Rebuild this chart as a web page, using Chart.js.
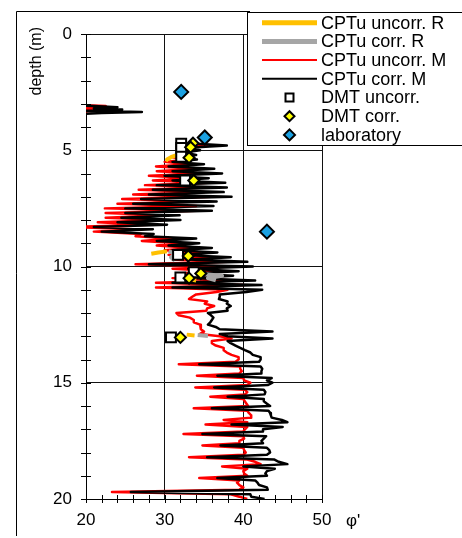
<!DOCTYPE html>
<html>
<head>
<meta charset="utf-8">
<script src="https://cdn.jsdelivr.net/npm/chart.js@4/dist/chart.umd.min.js"></script>
<style>
  body { margin: 0; background: #fff; }
</style>
</head>
<body>
<canvas id="chart" width="462" height="538"></canvas>
<script>
// CPTu profiles, depth in m (4.0 is a gap with no reading)
const depth = [
  3.05, 3.1, 3.15, 3.2, 3.25, 3.3, 3.35, 3.4, 3.45, 4.0,
  4.7, 4.8, 4.9, 5.0, 5.1, 5.2, 5.3, 5.4, 5.5, 5.6,
  5.7, 5.8, 5.9, 6.0, 6.1, 6.2, 6.3, 6.4, 6.5, 6.6,
  6.7, 6.8, 6.9, 7.0, 7.1, 7.2, 7.3, 7.4, 7.5, 7.6,
  7.7, 7.8, 7.9, 8.0, 8.1, 8.2, 8.3, 8.4, 8.5, 8.6,
  8.7, 8.8, 8.9, 9.0, 9.1, 9.2, 9.3, 9.4, 9.5, 9.6,
  9.7, 9.8, 9.9, 10.0, 10.1, 10.2, 10.3, 10.4, 10.5, 10.6,
  10.7, 10.8, 10.9, 11.0, 11.1, 11.2, 11.3, 11.4, 11.5, 11.6,
  11.7, 11.8, 11.9, 12.0, 12.1, 12.2, 12.3, 12.4, 12.5, 12.6,
  12.7, 12.8, 12.9, 13.0, 13.1, 13.2, 13.3, 13.4, 13.5, 13.6,
  13.7, 13.8, 13.9, 14.0, 14.1, 14.2, 14.3, 14.4, 14.5, 14.6,
  14.7, 14.8, 14.9, 15.0, 15.1, 15.2, 15.3, 15.4, 15.5, 15.6,
  15.7, 15.8, 15.9, 16.0, 16.1, 16.2, 16.3, 16.4, 16.5, 16.6,
  16.7, 16.8, 16.9, 17.0, 17.1, 17.2, 17.3, 17.4, 17.5, 17.6,
  17.7, 17.8, 17.9, 18.0, 18.1, 18.2, 18.3, 18.4, 18.5, 18.6,
  18.7, 18.8, 18.9, 19.0, 19.1, 19.2, 19.3, 19.4, 19.5, 19.6,
  19.7, 19.8, 19.9, 20.0
];

const phiUncorrM = [
  19, 22.5, 19, 23, 19.5, 21, 18.5, 20, 18, null,
  33, 35.4, 32.5, 33.5, 32, 33, 31, 33, 30, 33,
  28.9, 34, 29, 35, 28, 33.5, 28.5, 35.5, 27.5, 35.5,
  26.7, 35, 26, 36, 24.6, 34.5, 24, 34, 22.4, 34,
  22.5, 30, 22.5, 30, 21.5, 28, 18, 26, 21, 27,
  26.3, 31, 27.1, 32, 29, 33.5, 30, 34.5, 30.5, 36,
  31, 38, 26.3, 38.5, 31, 37, 31.5, 36.5, 31, 39,
  28.9, 40, 28.9, 38, 36.6, 34, 33.5, 33.1, 35.4, 35.1,
  36.3, 35.4, 35.3, 31.5, 31.8, 33.2, 33.7, 33.7, 34.5, 34.6,
  34.6, 35, 34.5, 37, 38.5, 36, 36, 36.5, 37.5, 37.5,
  37.9, 38.5, 39.4, 39.4, 39, 31.8, 39.6, 39.6, 39.8, 39.5,
  34.1, 40, 40.1, 40.9, 40.5, 33.9, 40.2, 40.5, 40.2, 35.8,
  40, 40.2, 40.4, 40.6, 33.7, 40.5, 40.7, 41, 41, 37.5,
  40.5, 35.2, 40.5, 40.2, 40, 32.4, 40, 40.1, 39.5, 39.5,
  34.8, 40, 40.1, 40.3, 40, 33.1, 40.5, 41.5, 42.2, 37.3,
  40.5, 40, 40.1, 40.5, 34.4, 39.5, 39.2, 39.5, 40, 39.5,
  23.3, 38.4, 39.5, 40.5
];

const phiCorrM = [
  18, 21, 24, 21, 24.6, 20, 27.1, 22, 19, null,
  33, 37.9, 32.5, 34.5, 32.5, 34, 32, 34.1, 31, 35,
  30.5, 36.3, 31, 37.3, 30, 35.6, 31, 37.7, 29, 37.9,
  28.5, 37.5, 28, 38.5, 27, 36.6, 26, 36.2, 25, 36,
  25, 31.9, 24.5, 32, 24, 30.3, 21, 28.5, 22, 28.6,
  27.5, 34, 29, 34.4, 30.5, 36, 31, 36.7, 32, 38.4,
  33, 40.5, 28, 41.2, 33, 39.4, 33, 38.7, 33.5, 41.5,
  31, 42.3, 31, 42.4, 40.4, 37, 37, 36.9, 38, 37.9,
  38.4, 37.9, 38, 35.5, 35.9, 36.2, 36, 35.8, 35.5, 36.5,
  37, 43.7, 37, 38, 43.7, 38, 38.4, 39, 39.6, 40.2,
  40.9, 41.2, 42.2, 42.2, 42, 34.4, 42.2, 42.4, 42.3, 42.3,
  36.7, 43.6, 43, 43.7, 43.1, 36.3, 42.6, 42.8, 42.7, 38,
  42.6, 42.6, 43, 43.4, 36, 43.2, 43.4, 43.5, 43.6, 44.9,
  45.6, 38.5, 45, 42.5, 42.5, 34.8, 42.9, 42.6, 42.3, 42.5,
  37.1, 43, 43.3, 43.4, 43, 35.4, 43.9, 44.5, 45.6, 40,
  44, 43, 42.8, 43, 36.7, 41.5, 41.8, 42, 43, 43.1,
  25.7, 40.9, 41, 42.7
];

// CPTu R only near the DMT depths
const depthUncorrR = [5.2, 5.3, 5.4, 5.45, 6, 9.35, 9.4, 9.45, 10, 10.55, 10.6, 11, 12.93, 12.97];
const phiUncorrR = [31.6, 30.8, 30.3, 30.5, null, 30.3, 29.2, 28.3, null, 33.2, 34, null, 32.8, 33.8];
const depthCorrR = [9.35, 9.45, 9.6, 9.75, 10, 10.3, 10.4, 10.5, 10.6, 11, 12.95, 12.99];
const phiCorrR = [30.5, 31.5, 30.8, 31.3, null, 34, 37.3, 35.5, 36.5, null, 34.2, 35.5];

// DMT and laboratory
const depthDmtUncorr = [4.72, 4.9, 5.28, 6.3, 9.5, 10.25, 10.47, 13.05];
const phiDmtUncorr = [32.1, 32.1, 32.1, 32.6, 31.7, 33.7, 32.0, 30.8];
const depthDmtCorr = [4.7, 4.87, 5.32, 6.3, 9.55, 10.3, 10.5, 13.05];
const phiDmtCorr = [33.6, 33.3, 33.1, 33.7, 33.0, 34.6, 33.1, 32.0];
const depthLab = [2.49, 4.45, 8.5];
const phiLab = [32.1, 35.1, 43.0];

const FONT = "'Liberation Sans', Arial, sans-serif";

function pts(ds, vs) {
  return ds.map((d, i) => (vs[i] == null ? { x: null, y: null } : { x: vs[i], y: d }));
}

const lineDs = (label, d, v, color, w, order) => ({
  label: label, data: pts(d, v), showLine: true, borderColor: color, backgroundColor: color,
  borderWidth: w, pointRadius: 0, tension: 0, spanGaps: false, borderJoinStyle: "round", order: order
});
const markDs = (label, d, v, style, r, fill, order) => ({
  label: label, data: pts(d, v), showLine: false, pointStyle: style, pointRadius: r,
  backgroundColor: fill, borderColor: "#000", pointBorderWidth: 2, borderWidth: 2, order: order
});

const extras = {
  id: "extras",
  afterDraw(chart) {
    const ctx = chart.ctx;
    const xs = chart.scales.x, ys = chart.scales.y;
    const a = chart.chartArea;
    ctx.save();
    ctx.strokeStyle = "#000";
    ctx.lineWidth = 1;
    // crossing ticks
    ctx.beginPath();
    for (let v = 20; v <= 50; v += 2) {
      const px = Math.round(xs.getPixelForValue(v)) + 0.5;
      ctx.moveTo(px, a.bottom - 4);
      ctx.lineTo(px, a.bottom + 4);
    }
    for (let d = 0; d <= 20; d += 1) {
      const py = Math.round(ys.getPixelForValue(d)) + 0.5;
      ctx.moveTo(a.left - 5, py);
      ctx.lineTo(a.left + 5, py);
    }
    ctx.stroke();

    // outer frame
    ctx.beginPath();
    ctx.moveTo(16.5, 536);
    ctx.lineTo(16.5, 11.5);
    ctx.lineTo(250, 11.5);
    ctx.stroke();

    // axis titles
    ctx.fillStyle = "#000";
    ctx.font = "17px " + FONT;
    ctx.textBaseline = "middle";
    ctx.textAlign = "left";
    ctx.fillText("φ'", 346, 521);
    ctx.save();
    ctx.translate(37, 27);
    ctx.rotate(-Math.PI / 2);
    ctx.textAlign = "right";
    ctx.font = "16px " + FONT;
    ctx.fillText("depth (m)", 0, 0);
    ctx.restore();

    // legend box
    ctx.fillStyle = "#fff";
    ctx.fillRect(247, 12, 230, 133);
    ctx.strokeRect(247.5, 12.5, 230, 133);
    const rowY = [22.7, 41.4, 60.1, 78.8, 97.5, 116.2, 134.9];
    ctx.font = "18px " + FONT;
    ctx.textAlign = "left";
    ctx.textBaseline = "middle";
    chart.data.datasets.forEach((ds, i) => {
      const y = rowY[i];
      if (ds.showLine) {
        ctx.strokeStyle = ds.borderColor;
        ctx.lineWidth = ds.borderWidth >= 4 ? 5 : 2;
        ctx.beginPath();
        ctx.moveTo(262, y);
        ctx.lineTo(317, y);
        ctx.stroke();
      } else {
        const cx = 289.5;
        ctx.fillStyle = ds.backgroundColor;
        ctx.strokeStyle = "#000";
        ctx.lineWidth = 2;
        ctx.beginPath();
        if (ds.pointStyle === "rect") {
          ctx.rect(cx - 4, y - 4, 8, 8);
        } else {
          const r = ds.pointRadius > 6 ? 5.5 : 5;
          ctx.moveTo(cx - r, y);
          ctx.lineTo(cx, y - r);
          ctx.lineTo(cx + r, y);
          ctx.lineTo(cx, y + r);
          ctx.closePath();
        }
        ctx.fill();
        ctx.stroke();
      }
      ctx.fillStyle = "#000";
      ctx.fillText(ds.label, 321, y + 1);
    });
    ctx.restore();
  }
};

new Chart(document.getElementById("chart"), {
  type: "scatter",
  data: {
    datasets: [
      lineDs("CPTu uncorr. R", depthUncorrR, phiUncorrR, "#FFC000", 4, 4),
      lineDs("CPTu corr. R", depthCorrR, phiCorrR, "#A6A6A6", 4, 3),
      lineDs("CPTu uncorr. M", depth, phiUncorrM, "#FF0000", 2.5, 6),
      lineDs("CPTu corr. M", depth, phiCorrM, "#000000", 2.5, 5),
      markDs("DMT uncorr.", depthDmtUncorr, phiDmtUncorr, "rect", 7, "#ffffff", 2),
      markDs("DMT corr.", depthDmtCorr, phiDmtCorr, "rectRot", 5.5, "#FFFF00", 1),
      markDs("laboratory", depthLab, phiLab, "rectRot", 7, "#1BA1E2", 0)
    ]
  },
  options: {
    responsive: false,
    animation: false,
    layout: { padding: { top: 34, right: 140, left: 0, bottom: 0 } },
    plugins: { legend: { display: false }, tooltip: { enabled: false } },
    scales: {
      x: {
        type: "linear", min: 20, max: 50,
        ticks: { stepSize: 10, color: "#000", font: { family: FONT, size: 17 }, padding: 11 },
        grid: { color: "#111", lineWidth: 1, drawTicks: false },
        border: { color: "#000" },
        afterFit: (s) => { s.height = 39; }
      },
      y: {
        type: "linear", reverse: true, min: 0, max: 20,
        ticks: { stepSize: 5, color: "#000", font: { family: FONT, size: 17 }, padding: 14 },
        grid: { color: "#111", lineWidth: 1, drawTicks: false },
        border: { color: "#000" },
        afterFit: (s) => { s.width = 86; }
      }
    }
  },
  plugins: [extras]
});
</script>
</body>
</html>
